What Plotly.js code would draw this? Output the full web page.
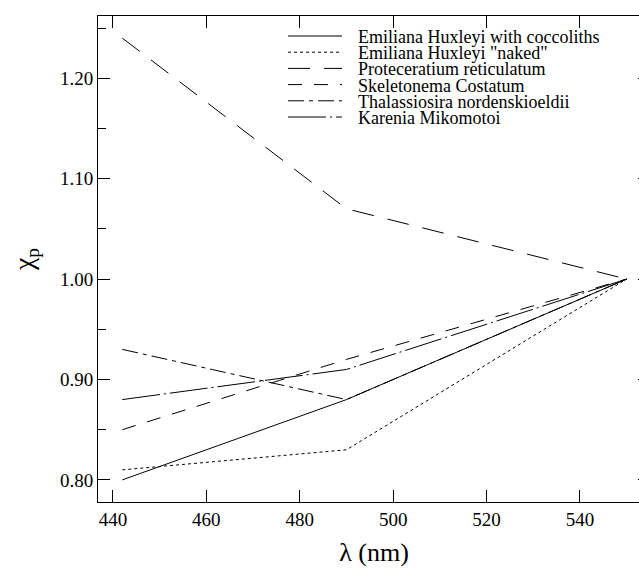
<!DOCTYPE html>
<html>
<head>
<meta charset="utf-8">
<script src="https://cdn.plot.ly/plotly-3.0.1.min.js"></script>
<style>html,body{margin:0;padding:0;background:#fff;overflow:hidden;}#chart{width:652px;height:568px;}</style>
</head>
<body>
<div id="chart"></div>
<script>
// Data
const wavelengths = [442, 490, 550];
const seriesNames = [
  'Emiliana Huxleyi with coccoliths',
  'Emiliana Huxleyi "naked"',
  'Proteceratium reticulatum',
  'Skeletonema Costatum',
  'Thalassiosira nordenskioeldii',
  'Karenia Mikomotoi'
];
const ehCoccoliths = [0.80, 0.88, 1.00];
const ehNaked = [0.81, 0.83, 1.00];
const proteceratium = [1.24, 1.07, 1.00];
const skeletonema = [0.85, 0.92, 1.00];
const thalassiosira = [0.93, 0.88, 1.00];
const karenia = [0.88, 0.91, 1.00];
const xTickVals = [440, 460, 480, 500, 520, 540];
const yTickVals = [0.80, 0.90, 1.00, 1.10, 1.20];

const FONT = 'Liberation Serif';
const seriesValues = [ehCoccoliths, ehNaked, proteceratium, skeletonema, thalassiosira, karenia];
const dashes = ['solid', '3px,3px', '22px,14px', '14px,12px', '16px,5px,4px,5px', '38px,4px,2px,4px'];

const traces = seriesValues.map((v, i) => ({
  x: wavelengths, y: v, name: seriesNames[i], type: 'scatter', mode: 'lines',
  line: {color: '#000', width: 1, dash: dashes[i]}, showlegend: false, hoverinfo: 'skip'
}));

// Plot frame (the reference's right edge lies just beyond the visible picture)
const W = 652, H = 568;
const L = 98, R = 650, T = 16, B = 502;
const px = x => (x - L) / (R - L);
const py = y => (B - y) / (B - T);

// Custom compact legend (text as real text)
const legTop = 36, legStep = 16.2;
const shapes = [], annotations = [];
seriesNames.forEach((n, i) => {
  const yy = legTop + i * legStep;
  shapes.push({type: 'line', xref: 'paper', yref: 'paper', x0: px(288), x1: px(342), y0: py(yy), y1: py(yy),
    line: {color: '#000', width: 1, dash: dashes[i]}});
  annotations.push({xref: 'paper', yref: 'paper', x: px(356), y: py(yy + 1), xanchor: 'left', yanchor: 'middle',
    text: n, showarrow: false, font: {family: FONT, size: 18, color: '#000'}});
});

const layout = {
  width: W, height: H,
  margin: {l: L, r: W - R, t: T, b: H - B},
  paper_bgcolor: '#fff', plot_bgcolor: '#fff',
  font: {family: FONT, size: 18, color: '#000'},
  showlegend: false,
  xaxis: {
    range: [436.8, 555.0], tickvals: xTickVals, ticks: 'inside', ticklen: 12, tickcolor: '#000',
    showline: true, linecolor: '#000', linewidth: 1, mirror: 'ticks', showgrid: false, zeroline: false,
    tickfont: {family: FONT, size: 19},
    title: {text: 'λ (nm)', font: {family: FONT, size: 26}, standoff: 14}
  },
  yaxis: {
    range: [0.778, 1.262], tickvals: yTickVals, tickformat: '.2f', ticks: 'inside', ticklen: 12, tickcolor: '#000',
    showline: true, linecolor: '#000', linewidth: 1, mirror: 'ticks', showgrid: false, zeroline: false,
    minor: {dtick: 0.05, tick0: 0.75, ticks: 'inside', ticklen: 8, tickcolor: '#000', showgrid: false},
    tickfont: {family: FONT, size: 19},
    title: {text: 'χ<sub>p</sub>', font: {family: FONT, size: 28}, standoff: 18}
  },
  shapes: shapes,
  annotations: annotations
};

Plotly.newPlot('chart', traces, layout, {displayModeBar: false, staticPlot: true});
</script>
</body>
</html>
